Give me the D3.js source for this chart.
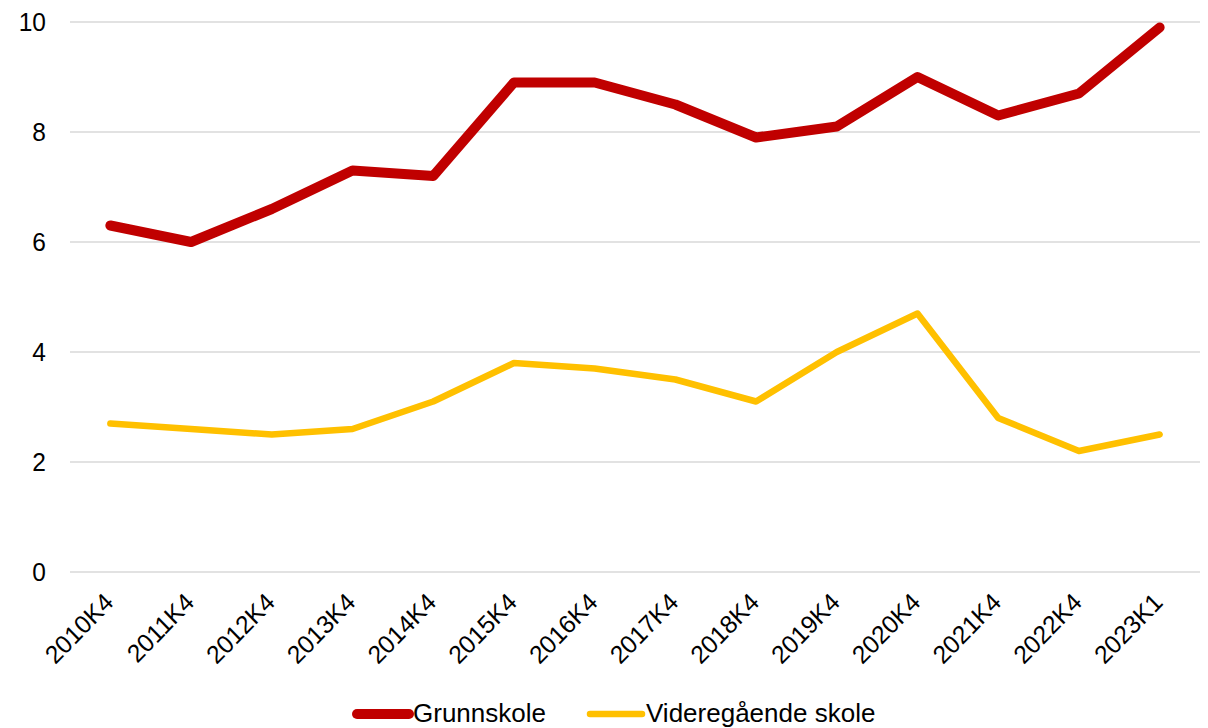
<!DOCTYPE html>
<html>
<head>
<meta charset="utf-8">
<script src="https://cdn.jsdelivr.net/npm/d3@7"></script>
<style>
  body { margin: 0; background: #fff; }
  svg { display: block; font-family: "Liberation Sans", Arial, sans-serif; }
</style>
</head>
<body>
<svg></svg>
<script>
// data
const quarters = ["2010K4", "2011K4", "2012K4", "2013K4", "2014K4", "2015K4", "2016K4",
  "2017K4", "2018K4", "2019K4", "2020K4", "2021K4", "2022K4", "2023K1"];
const grunnskole = [6.3, 6.0, 6.6, 7.3, 7.2, 8.9, 8.9, 8.5, 7.9, 8.1, 9.0, 8.3, 8.7, 9.9];
const videregaende = [2.7, 2.6, 2.5, 2.6, 3.1, 3.8, 3.7, 3.5, 3.1, 4.0, 4.7, 2.8, 2.2, 2.5];
const yTicks = [0, 2, 4, 6, 8, 10];
const seriesNames = ["Grunnskole", "Videregående skole"];

let width = 1208;
let height = 728;

let margin = {
  top: 22,
  bottom: 156,
  left: 70,
  right: 8
};

let svg = d3.select("svg")
  .attr("width", width)
  .attr("height", height);

let x_scale = d3.scaleBand()
  .domain(quarters)
  .range([margin.left, width - margin.right]);

let y_scale = d3.scaleLinear()
  .domain([0, 10])
  .range([height - margin.bottom, margin.top]);

// gridlines
svg.append("g")
  .selectAll("line")
  .data(yTicks)
  .enter()
  .append("line")
  .attr("x1", margin.left)
  .attr("x2", width - margin.right)
  .attr("y1", d => y_scale(d))
  .attr("y2", d => y_scale(d))
  .attr("stroke", "#d9d9d9")
  .attr("stroke-width", 1.5);

// y labels
svg.append("g")
  .selectAll("text")
  .data(yTicks)
  .enter()
  .append("text")
  .attr("transform", d => `translate(46, ${y_scale(d)}) scale(1, 1.06)`)
  .attr("dy", "0.35em")
  .attr("text-anchor", "end")
  .attr("font-size", 24.5)
  .attr("fill", "#000")
  .text(d => d);

// x labels, rotated
svg.append("g")
  .selectAll("text")
  .data(quarters)
  .enter()
  .append("text")
  .attr("transform", d => `translate(${x_scale(d) + x_scale.bandwidth() / 2 - 8}, 591) scale(1, 1.03) rotate(-45)`)
  .attr("dy", "0.72em")
  .attr("text-anchor", "end")
  .attr("font-size", 24.5)
  .attr("fill", "#000")
  .text(d => d);

let line = d3.line()
  .x((d, i) => x_scale(quarters[i]) + x_scale.bandwidth() / 2)
  .y(d => y_scale(d));

svg.append("path")
  .datum(videregaende)
  .attr("d", line)
  .attr("fill", "none")
  .attr("stroke", "#ffc000")
  .attr("stroke-width", 6.5)
  .attr("stroke-linejoin", "round")
  .attr("stroke-linecap", "round");

svg.append("path")
  .datum(grunnskole)
  .attr("d", line)
  .attr("fill", "none")
  .attr("stroke", "#c00000")
  .attr("stroke-width", 10)
  .attr("stroke-linejoin", "round")
  .attr("stroke-linecap", "round");

// legend
let legend = svg.append("g");
let legendItems = [
  { name: seriesNames[0], color: "#c00000", w: 10, x: 357 },
  { name: seriesNames[1], color: "#ffc000", w: 6.5, x: 590 }
];

legend.selectAll("line")
  .data(legendItems)
  .enter()
  .append("line")
  .attr("x1", d => d.x)
  .attr("x2", d => d.x + 52)
  .attr("y1", 714)
  .attr("y2", 714)
  .attr("stroke", d => d.color)
  .attr("stroke-width", d => d.w)
  .attr("stroke-linecap", "round");

legend.selectAll("text")
  .data(legendItems)
  .enter()
  .append("text")
  .attr("x", d => d.x + 56)
  .attr("y", 713)
  .attr("dy", "0.35em")
  .attr("font-size", 26)
  .attr("fill", "#000")
  .text(d => d.name);
</script>
</body>
</html>
